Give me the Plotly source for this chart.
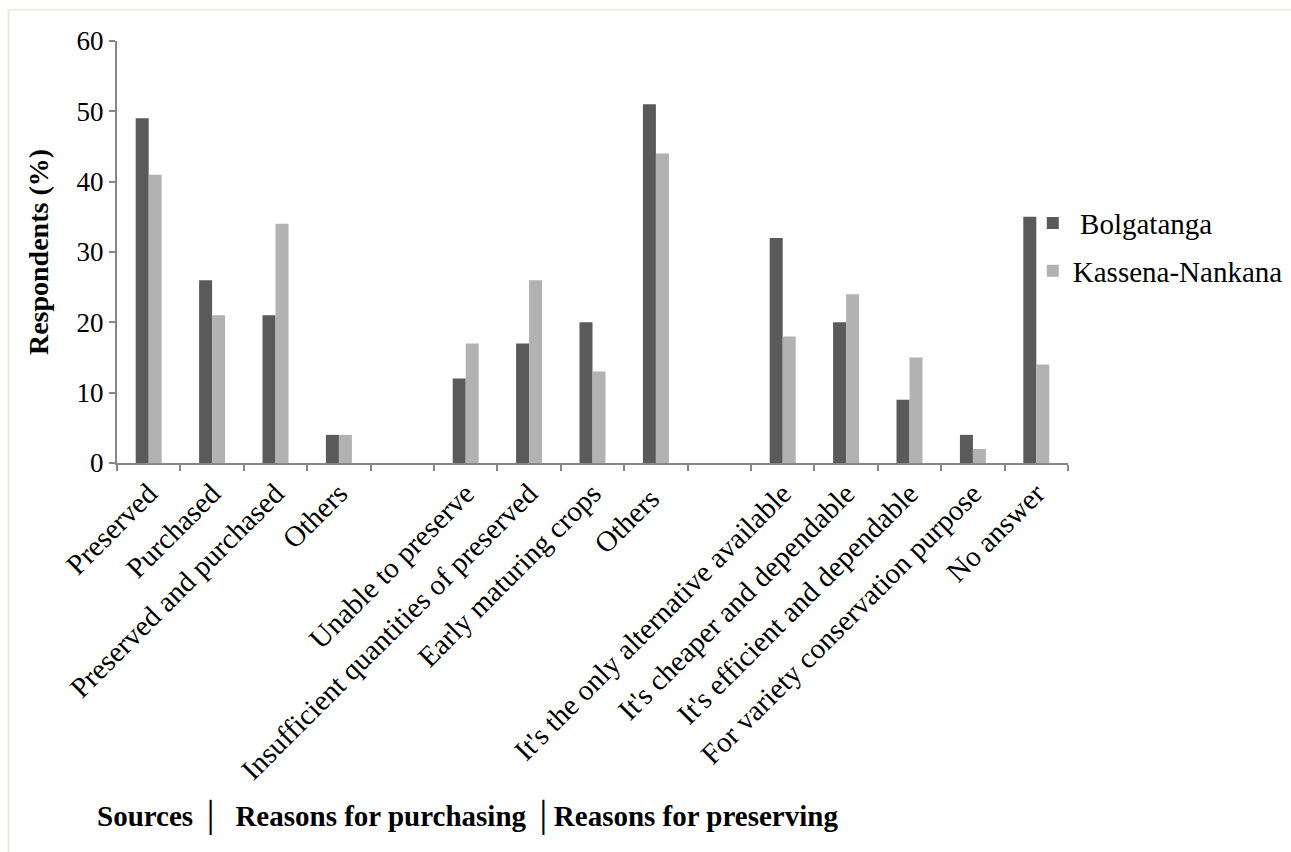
import plotly.graph_objects as go

categories = ["Preserved", "Purchased", "Preserved and purchased", "Others", " ",
              "Unable to preserve", "Insufficient quantities of preserved", "Early maturing crops", "Others ", "  ",
              "It's the only alternative available", "It's cheaper and dependable", "It's efficient and dependable",
              "For variety conservation purpose", "No answer"]
bolgatanga = [49, 26, 21, 4, None, 12, 17, 20, 51, None, 32, 20, 9, 4, 35]
kassena = [41, 21, 34, 4, None, 17, 26, 13, 44, None, 18, 24, 15, 2, 14]
yticks = [0, 10, 20, 30, 40, 50, 60]

serif = "Liberation Serif, Times New Roman, serif"

fig = go.Figure()
fig.add_trace(go.Bar(x=categories, y=bolgatanga, name=" Bolgatanga", legendgroup="a",
                     marker=dict(color="#5a5a5a", line=dict(width=0))))
fig.add_trace(go.Bar(x=categories, y=kassena, name="Kassena-Nankana", legendgroup="b",
                     marker=dict(color="#b2b2b2", line=dict(width=0))))

fig.update_layout(
    width=1291, height=852,
    margin=dict(l=117, r=223, t=41, b=389, autoexpand=False),
    paper_bgcolor="white", plot_bgcolor="white",
    barmode="group", bargap=0.59, bargroupgap=0,
    font=dict(family=serif, size=27, color="black"),
    legend=dict(xref="container", yref="container", x=0.80, y=0.768, xanchor="left", yanchor="top",
                font=dict(family=serif, size=29),
                itemwidth=30, tracegroupgap=7, bgcolor="rgba(0,0,0,0)"),
    showlegend=True,
)
fig.update_xaxes(type="category", categoryorder="array", categoryarray=categories,
                 tickangle=-45, tickson="boundaries", ticks="outside", ticklen=6, tickwidth=2,
                 tickcolor="#868686", showline=True, linecolor="#868686", linewidth=2,
                 showgrid=False, tickfont=dict(family=serif, size=29), automargin=False)
fig.update_yaxes(range=[0, 60], tickvals=yticks, ticks="outside", ticklen=6, tickwidth=2,
                 tickcolor="#868686", showline=True, linecolor="#868686", linewidth=2,
                 showgrid=False, zeroline=False, tickfont=dict(family=serif, size=27), automargin=False,
                 title=dict(text="<b>Respondents (%)</b>", font=dict(family=serif, size=28), standoff=20))

fig.add_annotation(xref="paper", yref="paper", x=-0.023, y=-0.84, xanchor="left", yanchor="middle",
                   text="<b>Sources │  Reasons for purchasing │Reasons for preserving</b>",
                   showarrow=False, font=dict(family=serif, size=29, color="black"))

# light frame lines (top and left)
fig.add_shape(type="line", xref="paper", yref="paper", x0=-0.114, x1=1.25, y0=1.074, y1=1.074,
              line=dict(color="#ebebdf", width=2))
fig.add_shape(type="line", xref="paper", yref="paper", x0=-0.114, x1=-0.114, y0=1.074, y1=-0.93,
              line=dict(color="#ebebdf", width=2))

fig.write_html("out.html")
